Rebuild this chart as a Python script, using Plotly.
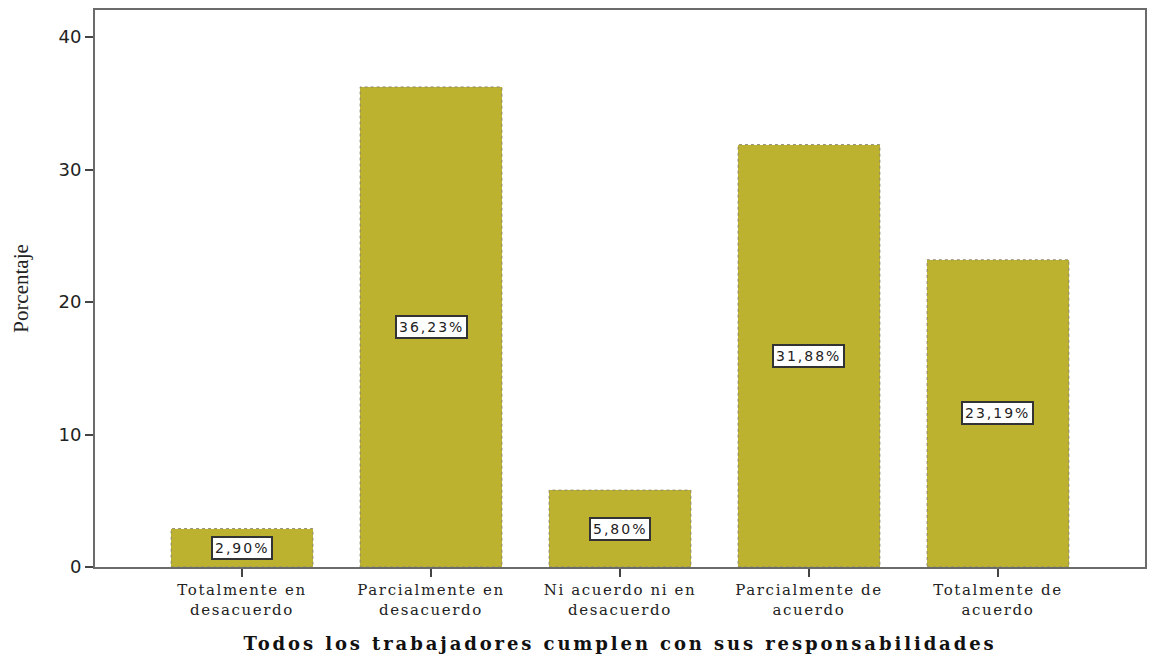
import plotly.graph_objects as go

categories = [
    "Totalmente en<br>desacuerdo",
    "Parcialmente en<br>desacuerdo",
    "Ni acuerdo ni en<br>desacuerdo",
    "Parcialmente de<br>acuerdo",
    "Totalmente de<br>acuerdo",
]
percentages = [2.90, 36.23, 5.80, 31.88, 23.19]
y_ticks = [0, 10, 20, 30, 40]

bar_color = "#BDB22F"
frame_color = "#6b6b6b"
bar_width = 0.75


def spaced(text, px):
    return f'<span style="letter-spacing:{px}px">{text}</span>'


x_pos = list(range(len(categories)))

fig = go.Figure()
fig.add_trace(go.Bar(
    x=x_pos,
    y=percentages,
    width=bar_width,
    marker=dict(color=bar_color, line=dict(width=0)),
    hoverinfo="skip",
))

# dashed outline around each bar
for xi, v in zip(x_pos, percentages):
    fig.add_shape(
        type="rect", xref="x", yref="y",
        x0=xi - bar_width / 2, x1=xi + bar_width / 2, y0=0, y1=v,
        line=dict(color="#8d8a6a", width=1, dash="dot"),
        layer="above",
    )

# value labels in boxed annotations at mid-height of each bar
for xi, v in zip(x_pos, percentages):
    fig.add_annotation(
        x=xi, y=v / 2,
        text=spaced(f"{v:.2f}%".replace(".", ","), 2),
        showarrow=False,
        font=dict(family="DejaVu Sans", size=14, color="#222"),
        bgcolor="white",
        bordercolor="#333",
        borderwidth=2,
        borderpad=2,
    )

fig.update_layout(
    width=1153, height=655,
    margin=dict(l=95, r=8, t=10, b=88),
    paper_bgcolor="white",
    plot_bgcolor="white",
    showlegend=False,
    bargap=0,
    xaxis=dict(
        range=[-0.778, 4.778],
        automargin=False,
        tickmode="array",
        tickvals=x_pos,
        ticktext=["<br>".join(spaced(part, 1.6) for part in c.split("<br>"))
                  for c in categories],
        ticks="outside",
        ticklen=8,
        tickwidth=2,
        tickcolor="#444",
        tickfont=dict(family="DejaVu Serif", size=15, color="#222"),
        showline=True, linecolor=frame_color, linewidth=2, mirror=True,
        showgrid=False, zeroline=False,
        title=dict(
            text=spaced("<b>Todos los trabajadores cumplen con sus responsabilidades</b>", 2.9),
            font=dict(family="DejaVu Serif", size=18, color="#111"),
            standoff=20,
        ),
    ),
    yaxis=dict(
        range=[0, 42.04],
        automargin=False,
        tickmode="array",
        tickvals=y_ticks,
        ticks="outside",
        ticklen=8,
        tickwidth=2,
        tickcolor="#444",
        tickfont=dict(family="DejaVu Sans", size=18, color="#222"),
        showline=True, linecolor=frame_color, linewidth=2, mirror=True,
        showgrid=False, zeroline=False,
        title=dict(
            text="Porcentaje",
            font=dict(family="Liberation Serif", size=21, color="#222"),
            standoff=24,
        ),
    ),
)

fig.write_html("out.html")
